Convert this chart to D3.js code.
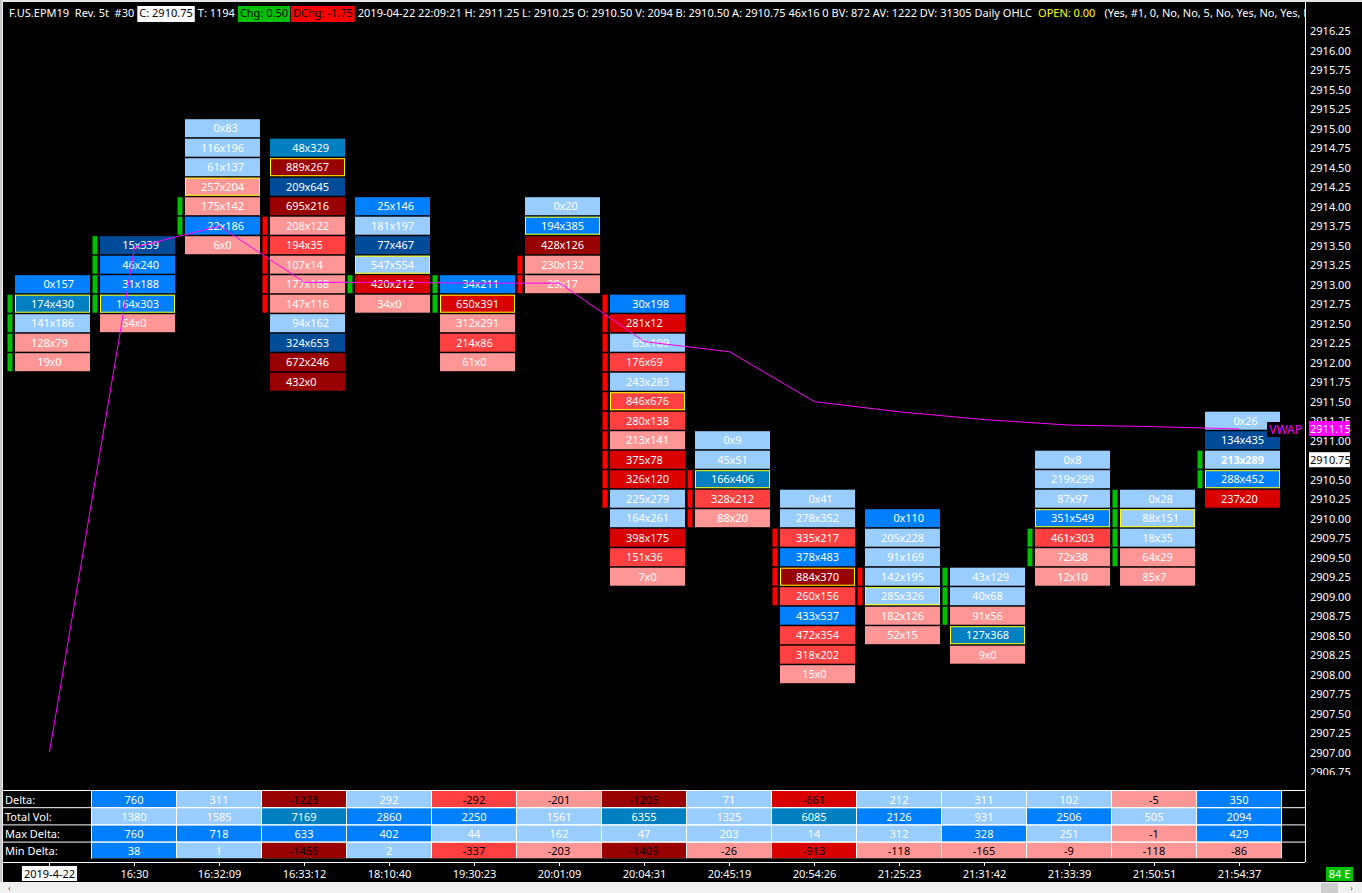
<!DOCTYPE html>
<head>
    <meta charset="utf-8">
    <script src="https://d3js.org/d3.v7.min.js"></script>
    <style>
        body { margin:0; background:#000; overflow:hidden; }
        text { font-family: 'Noto Sans', 'Open Sans', sans-serif; font-size: 11px; white-space: pre; }
        .cell-text { fill: #fff; }
        .axis-price text { fill: #fff; font-size: 11px; }
        .axis-price line { stroke: #fff; }
        .axis-price .domain { stroke: #fff; }
        .vwap { fill: none; stroke: #ff00ff; stroke-width: 1; }
        .row-label { fill: #fff; }
    </style>
</head>
<body>
<script>
    // column times (first column is the session date)
    const times = ['2019-4-22', '16:30', '16:32:09', '16:33:12', '18:10:40', '19:30:23', '20:01:09',
        '20:04:31', '20:45:19', '20:54:26', '21:25:23', '21:31:42', '21:33:39', '21:50:51', '21:54:37'];

    // highest price level of each footprint column
    const topPrice = [2913.00, 2913.50, 2915.00, 2914.75, 2914.00, 2913.00, 2914.00,
        2912.75, 2911.00, 2910.25, 2910.00, 2909.25, 2910.75, 2910.25, 2911.25];

    // bid volume per level, top to bottom
    const bids = [
        [0, 174, 141, 128, 19],
        [15, 46, 31, 164, 54],
        [0, 116, 61, 257, 175, 22, 6],
        [48, 889, 209, 695, 208, 194, 107, 177, 147, 94, 324, 672, 432],
        [25, 181, 77, 547, 420, 34],
        [34, 650, 312, 214, 61],
        [0, 194, 428, 230, 29],
        [30, 281, 65, 176, 243, 846, 280, 213, 375, 326, 225, 164, 398, 151, 7],
        [0, 45, 166, 328, 88],
        [0, 278, 335, 378, 884, 260, 433, 472, 318, 15],
        [0, 205, 91, 142, 285, 182, 52],
        [43, 40, 91, 127, 9],
        [0, 219, 87, 351, 461, 72, 12],
        [0, 88, 18, 64, 85],
        [0, 134, 213, 288, 237]
    ];

    // ask volume per level, top to bottom
    const asks = [
        [157, 430, 186, 79, 0],
        [339, 240, 188, 303, 0],
        [83, 196, 137, 204, 142, 186, 0],
        [329, 267, 645, 216, 122, 35, 14, 168, 116, 162, 653, 246, 0],
        [146, 197, 467, 554, 212, 0],
        [211, 391, 291, 86, 0],
        [20, 385, 126, 132, 17],
        [198, 12, 109, 69, 283, 676, 138, 141, 78, 120, 279, 261, 175, 36, 0],
        [9, 51, 406, 212, 20],
        [41, 352, 217, 483, 370, 156, 537, 354, 202, 0],
        [110, 228, 169, 195, 326, 126, 15],
        [129, 68, 56, 368, 0],
        [8, 299, 97, 549, 303, 38, 10],
        [28, 151, 35, 29, 7],
        [26, 435, 289, 452, 20]
    ];

    const opens  = [2912.00, 2912.75, 2913.75, 2913.75, 2913.00, 2912.75, 2913.25,
        2912.75, 2910.50, 2909.75, 2909.25, 2908.75, 2909.50, 2909.50, 2910.50];
    const closes = [2912.75, 2913.50, 2914.00, 2912.75, 2913.00, 2913.00, 2913.00,
        2910.25, 2910.00, 2909.00, 2909.00, 2909.25, 2909.75, 2910.25, 2910.75];

    const vwap = [2907.01, 2913.48, 2913.75, 2913.03, 2913.03, 2913.02, 2913.02,
        2912.27, 2912.14, 2911.50, 2911.37, 2911.27, 2911.20, 2911.18, 2911.15];

    // summary table (columns 2..15)
    const tableLabels = ['Delta:', 'Total Vol:', 'Max Delta:', 'Min Delta:'];
    const deltaRow = [760, 311, -1223, 292, -292, -201, -1205, 71, -661, 212, 311, 102, -5, 350];
    const totalVol = [1380, 1585, 7169, 2860, 2250, 1561, 6355, 1325, 6085, 2126, 931, 2506, 505, 2094];
    const maxDelta = [760, 718, 633, 402, 44, 162, 47, 203, 14, 312, 328, 251, -1, 429];
    const minDelta = [38, 1, -1456, 2, -337, -203, -1409, -26, -913, -118, -165, -9, -118, -86];

    const priceTicks = d3.range(2906.75, 2916.3, 0.25);
    const lastPrice = 2910.75;

    const header = [
        {text: 'F.US.EPM19  Rev. 5t  #30', color: '#fff', gap: 0},
        {text: 'C: 2910.75', color: '#000', box: '#fff', gap: 3},
        {text: 'T: 1194', color: '#fff', gap: 3},
        {text: 'Chg: 0.50', color: '#000', box: '#00c000', gap: 3},
        {text: 'DChg: -1.75', color: '#000', box: '#ff0000', gap: 1},
        {text: '2019-04-22 22:09:21 H: 2911.25 L: 2910.25 O: 2910.50 V: 2094 B: 2910.50 A: 2910.75 46x16 0 BV: 872 AV: 1222 DV: 31305 Daily OHLC', color: '#fff', gap: 3},
        {text: 'OPEN: 0.00', color: '#ffff00', gap: 6},
        {text: '(Yes, #1, 0, No, No, 5, No, Yes, No, Yes, No, Yes)', color: '#fff', gap: 9}
    ];

    const width = 1362, height = 893;
    const axisX = 1305;
    const plotTop = 22, plotBottom = 775;
    const tableTop = 790, rowH = 17.2;

    const colours = {
        darkRed: '#990000', deepRed: '#d90000', red: '#ff4040', pink: '#ff9696',
        light: '#99ccff', bright: '#0080ff', teal: '#0080c0', navy: '#004c99'
    };

    const yScale = d3.scaleLinear().domain([2907, 2916.25]).range([752.7, 31.2]);
    const xScale = d3.scaleBand().domain(d3.range(times.length)).range([7, 7 + 85 * times.length]);

    const levelColour = d3.scaleThreshold()
        .domain([-300, -200, -100, 0, 100, 200, 300])
        .range([colours.darkRed, colours.deepRed, colours.red, colours.pink,
            colours.light, colours.bright, colours.teal, colours.navy]);

    const deltaColour = d3.scaleThreshold().domain([-1000, -500, -250, 0, 320])
        .range([colours.darkRed, colours.deepRed, colours.red, colours.pink, colours.light, colours.bright]);
    const minDeltaColour = d3.scaleThreshold().domain([-1000, -500, -250, 0, 20])
        .range([colours.darkRed, colours.deepRed, colours.red, colours.pink, colours.light, colours.bright]);
    const volColour = d3.scaleThreshold().domain([2000, 5000])
        .range([colours.light, colours.bright, colours.teal]);

    const svg = d3.select('body').append('svg')
        .attr('width', width)
        .attr('height', height);

    svg.append('rect').attr('width', width).attr('height', height).attr('fill', '#000');

    const vwapLast = vwap[vwap.length - 1];
    const vwapY = yScale(vwapLast);
    const defs = svg.append('defs');
    defs.append('clipPath').attr('id', 'plot-clip')
        .append('rect').attr('x', 3).attr('y', plotTop).attr('width', width).attr('height', plotBottom - plotTop);
    defs.append('clipPath').attr('id', 'header-clip')
        .append('rect').attr('x', 0).attr('y', 0).attr('width', axisX).attr('height', plotTop);

    // footprint levels
    const levels = topPrice.flatMap((top, i) => {
        const vols = bids[i].map((b, k) => b + asks[i][k]);
        const maxVol = d3.max(vols);
        return bids[i].map((b, k) => ({
            col: i,
            price: top - 0.25 * k,
            bid: b,
            ask: asks[i][k],
            poc: vols[k] === maxVol
        }));
    });

    const plot = svg.append('g').attr('clip-path', 'url(#plot-clip)');

    // candle body markers
    const markers = topPrice.flatMap((top, i) => {
        const lo = Math.min(opens[i], closes[i]), hi = Math.max(opens[i], closes[i]);
        const up = closes[i] >= opens[i];
        return d3.range(Math.round((hi - lo) / 0.25) + 1).map(k => ({col: i, price: hi - 0.25 * k, up}));
    });

    plot.append('g').selectAll('rect')
        .data(markers)
        .join('rect')
        .attr('x', d => xScale(d.col) + 0.5)
        .attr('y', d => yScale(d.price) - 9.5)
        .attr('width', 5)
        .attr('height', 18)
        .attr('fill', d => d.up ? '#00c000' : '#ff0000');

    const cells = plot.append('g').selectAll('g')
        .data(levels)
        .join('g')
        .attr('transform', d => `translate(${xScale(d.col) + 8},${yScale(d.price) - 9.5})`);

    cells.append('rect')
        .attr('width', 75)
        .attr('height', 18)
        .attr('fill', d => levelColour(d.ask - d.bid));

    cells.filter(d => d.poc).append('rect')
        .attr('x', 0.5).attr('y', 0.5)
        .attr('width', 74).attr('height', 17)
        .attr('fill', 'none')
        .attr('stroke', '#ffff00');

    const isLast = d => d.col === times.length - 1 && d.price === lastPrice;

    cells.append('text').attr('class', 'cell-text')
        .attr('x', 37.5).attr('y', 13)
        .attr('text-anchor', 'middle')
        .style('font-weight', d => isLast(d) ? 'bold' : null)
        .text('x');
    cells.append('text').attr('class', 'cell-text')
        .attr('x', 34.8).attr('y', 13)
        .attr('text-anchor', 'end')
        .style('font-weight', d => isLast(d) ? 'bold' : null)
        .text(d => d.bid);
    cells.append('text').attr('class', 'cell-text')
        .attr('x', 40.2).attr('y', 13)
        .style('font-weight', d => isLast(d) ? 'bold' : null)
        .text(d => d.ask);

    // VWAP line
    const vwapLine = d3.line()
        .x((d, i) => xScale(i) + xScale.bandwidth() / 2)
        .y(d => yScale(d));

    plot.append('path')
        .datum(vwap)
        .attr('class', 'vwap')
        .attr('d', vwapLine);

    plot.append('rect')
        .attr('x', 1267).attr('y', vwapY - 7).attr('width', 36).attr('height', 15)
        .attr('fill', '#000');
    plot.append('text')
        .attr('x', 1302).attr('y', vwapY + 5)
        .attr('text-anchor', 'end')
        .attr('fill', '#ff00ff')
        .style('font-size', '12px')
        .text('VWAP');

    // price axis
    const axisG = svg.append('g')
        .attr('class', 'axis-price')
        .attr('clip-path', 'url(#plot-clip)')
        .attr('transform', `translate(${axisX},0)`)
        .call(d3.axisRight(yScale)
            .tickValues(priceTicks)
            .tickFormat(d3.format('.2f'))
            .tickSize(3)
            .tickPadding(2));
    axisG.select('.domain').remove();

    // the tick label sitting behind the VWAP price box only shows its top edge
    axisG.selectAll('.tick')
        .filter(d => Math.abs(yScale(d) - vwapY) < 8)
        .each(function(d, k) {
            const id = 'under-box-' + k;
            defs.append('clipPath').attr('id', id)
                .append('rect')
                .attr('x', 0).attr('y', -20)
                .attr('width', 60).attr('height', 20 + (vwapY - 8) - yScale(d));
            d3.select(this).select('text').attr('clip-path', `url(#${id})`);
        });

    svg.append('line')
        .attr('x1', axisX + 0.5).attr('x2', axisX + 0.5)
        .attr('y1', 0).attr('y2', 862)
        .attr('stroke', '#fff');

    function priceBox(value, bg, fg) {
        const yy = yScale(value);
        svg.append('rect')
            .attr('x', axisX + 4).attr('y', yy - 8)
            .attr('width', 41).attr('height', 15)
            .attr('fill', bg);
        svg.append('text')
            .attr('x', axisX + 5).attr('y', yy + 3.5)
            .attr('fill', fg)
            .text(d3.format('.2f')(value));
    }
    priceBox(vwapLast, '#ff00ff', '#fff');
    priceBox(lastPrice, '#fff', '#000');

    // header line
    const head = svg.append('g').attr('clip-path', 'url(#header-clip)');
    let hx = 9;
    header.forEach(h => {
        hx += h.gap;
        const t = head.append('text')
            .attr('x', h.box ? hx + 2 : hx)
            .attr('y', 17)
            .attr('fill', h.color)
            .text(h.text);
        const w = t.node().getComputedTextLength();
        if (h.box) {
            head.insert('rect', 'text')
                .attr('x', hx).attr('y', 6)
                .attr('width', w + 4).attr('height', 16)
                .attr('fill', h.box);
            hx += w + 4;
        } else {
            hx += w;
        }
    });

    // summary table
    const tableRows = [
        {label: tableLabels[0], values: deltaRow, colour: deltaColour, signText: true},
        {label: tableLabels[1], values: totalVol, colour: volColour, signText: false},
        {label: tableLabels[2], values: maxDelta, colour: deltaColour, signText: true},
        {label: tableLabels[3], values: minDelta, colour: minDeltaColour, signText: true}
    ];

    const table = svg.append('g');
    table.append('rect')
        .attr('x', xScale(1) - 1).attr('y', tableTop)
        .attr('width', 85 * deltaRow.length + 1).attr('height', rowH * 4)
        .attr('fill', '#fff');

    const rows = table.selectAll('g.row')
        .data(tableRows)
        .join('g')
        .attr('class', 'row')
        .attr('transform', (d, r) => `translate(0,${tableTop + r * rowH})`);

    rows.append('text').attr('class', 'row-label')
        .attr('x', 5).attr('y', rowH / 2 + 5)
        .text(d => d.label);

    const tcells = rows.selectAll('g.tcell')
        .data(row => row.values.map((v, i) => ({v, i, row})))
        .join('g')
        .attr('class', 'tcell')
        .attr('transform', d => `translate(${xScale(d.i + 1)},1)`);

    tcells.append('rect')
        .attr('width', 84)
        .attr('height', (d) => tableRows.indexOf(d.row) === 3 ? rowH - 1.5 : rowH - 1)
        .attr('fill', d => d.row.colour(d.v));

    tcells.append('text')
        .attr('x', 42).attr('y', rowH / 2 + 4)
        .attr('text-anchor', 'middle')
        .attr('fill', d => d.row.signText && d.v < 0 ? '#000' : '#fff')
        .text(d => d.v);

    table.append('rect')
        .attr('x', xScale(1) - 1).attr('y', tableTop + rowH * 4 - 0.5)
        .attr('width', 85 * deltaRow.length + 1).attr('height', 4.5)
        .attr('fill', '#000');

    [0, 1, 2, 3].forEach(r => {
        table.append('line')
            .attr('x1', 3).attr('x2', axisX)
            .attr('y1', tableTop + r * rowH + 0.5).attr('y2', tableTop + r * rowH + 0.5)
            .attr('stroke', '#fff');
    });
    table.append('line')
        .attr('x1', 3).attr('x2', axisX)
        .attr('y1', 862.5).attr('y2', 862.5)
        .attr('stroke', '#fff');
    table.append('line')
        .attr('x1', xScale(1) - 0.5).attr('x2', xScale(1) - 0.5)
        .attr('y1', tableTop).attr('y2', tableTop + rowH * 4)
        .attr('stroke', '#fff');

    // time axis
    const timeG = svg.append('g');
    timeG.selectAll('line')
        .data(times)
        .join('line')
        .attr('x1', (d, i) => xScale(i) + 42.5).attr('x2', (d, i) => xScale(i) + 42.5)
        .attr('y1', 863).attr('y2', 866)
        .attr('stroke', '#fff');

    const tl = timeG.selectAll('text')
        .data(times)
        .join('text')
        .attr('x', (d, i) => xScale(i) + 42.5)
        .attr('y', 878)
        .attr('text-anchor', 'middle')
        .attr('fill', (d, i) => i === 0 ? '#000' : '#fff')
        .text(d => d);

    const firstW = tl.filter((d, i) => i === 0).node().getComputedTextLength();
    timeG.insert('rect', 'text')
        .attr('x', xScale(0) + 42.5 - firstW / 2 - 2).attr('y', 866)
        .attr('width', firstW + 4).attr('height', 15)
        .attr('fill', '#fff');

    svg.append('rect')
        .attr('x', 1326).attr('y', 867).attr('width', 27).attr('height', 14)
        .attr('fill', '#00c000');
    svg.append('text')
        .attr('x', 1339.5).attr('y', 878).attr('text-anchor', 'middle')
        .attr('fill', '#fff').text('84 E');

    // window chrome
    svg.append('rect').attr('x', 0).attr('y', 882).attr('width', width).attr('height', 11).attr('fill', '#f0f0f0');
    svg.append('rect').attr('x', 1321).attr('y', 883).attr('width', 17).attr('height', 10).attr('fill', '#cdcdcd');
    svg.append('text').attr('x', 8).attr('y', 891).attr('fill', '#606060').style('font-size', '9px').text('‹');
    svg.append('text').attr('x', 1350).attr('y', 891).attr('fill', '#606060').style('font-size', '9px').text('›');
    svg.append('rect').attr('x', 0).attr('y', 0).attr('width', width).attr('height', 2).attr('fill', '#e6e6e6');
    svg.append('rect').attr('x', 0).attr('y', 0).attr('width', 2).attr('height', 882).attr('fill', '#c8c8c8');
    svg.append('rect').attr('x', 2).attr('y', 2).attr('width', 1).attr('height', 880).attr('fill', '#f0f0f0');
</script>
</body>
